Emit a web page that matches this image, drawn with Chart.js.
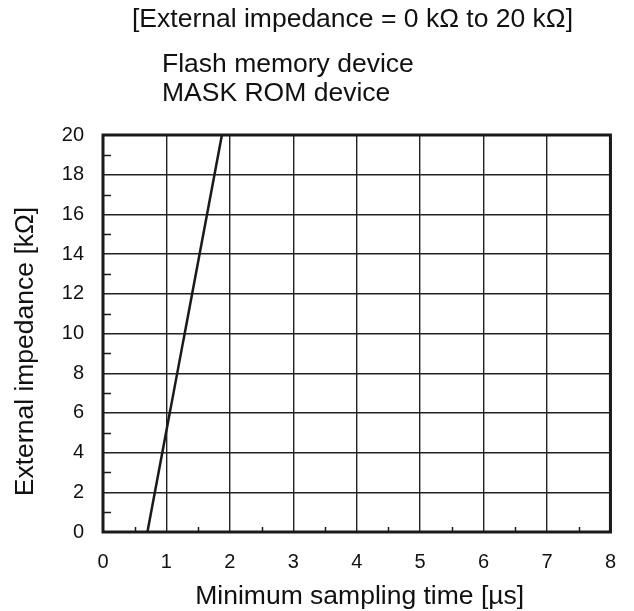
<!DOCTYPE html>
<html>
<head>
<meta charset="utf-8">
<script src="https://cdn.jsdelivr.net/npm/chart.js@4"></script>
<style>
html,body{margin:0;padding:0;background:#fff;}
#wrap{width:634px;height:611px;position:relative;}
</style>
</head>
<body>
<div id="wrap"><canvas id="c" width="634" height="611"></canvas></div>
<script>
const headerTitle = "[External impedance = 0 k\u03A9 to 20 k\u03A9]";
const deviceLines = ["Flash memory device", "MASK ROM device"];
const xAxisTitle = "Minimum sampling time [\u00B5s]";
const yAxisTitle = "External impedance [k\u03A9]";
const samplingTime = [0.70, 1.875];
const impedance = [0, 20];
const xMinorTicks = [0.5, 1.5, 2.5, 3.5, 4.5, 5.5, 6.5, 7.5];
const yMinorTicks = [1, 3, 5, 7, 9, 11, 13, 15, 17, 19];

const FONT = "'Liberation Sans', Arial, Helvetica, sans-serif";

const decor = {
  id: 'decor',
  afterDraw(chart) {
    const ctx = chart.ctx;
    const a = chart.chartArea;
    const xs = chart.scales.x, ys = chart.scales.y;
    ctx.save();
    ctx.strokeStyle = '#1a1a1a';
    ctx.lineWidth = 1.5;
    ctx.beginPath();
    yMinorTicks.forEach(v => {
      const p = Math.round(ys.getPixelForValue(v)) + 0.5;
      ctx.moveTo(a.left, p); ctx.lineTo(a.left + 8, p);
    });
    xMinorTicks.forEach(v => {
      const p = Math.round(xs.getPixelForValue(v)) + 0.5;
      ctx.moveTo(p, a.bottom); ctx.lineTo(p, a.bottom - 5);
    });
    ctx.stroke();
    ctx.lineWidth = 3;
    ctx.strokeRect(a.left, a.top, a.right - a.left, a.bottom - a.top);
    ctx.fillStyle = '#111';
    ctx.font = "26.5px " + FONT;
    ctx.textBaseline = 'alphabetic';
    ctx.textAlign = 'left';
    ctx.fillText(headerTitle, 132, 27);
    ctx.fillText(deviceLines[0], 162, 72);
    ctx.fillText(deviceLines[1], 162, 101);
    ctx.textAlign = 'center';
    ctx.fillText(xAxisTitle, (a.left + a.right) / 2 + 3, 604);
    ctx.translate(33, (a.top + a.bottom) / 2 + 18);
    ctx.rotate(-Math.PI / 2);
    ctx.fillText(yAxisTitle, 0, 0);
    ctx.restore();
  }
};

new Chart(document.getElementById('c'), {
  type: 'scatter',
  data: {
    datasets: [{
      data: samplingTime.map((x, i) => ({x: x, y: impedance[i]})),
      showLine: true,
      borderColor: '#1a1a1a',
      borderWidth: 2.5,
      pointRadius: 0,
      fill: false
    }]
  },
  options: {
    responsive: false,
    animation: false,
    devicePixelRatio: 1,
    layout: { padding: { top: 135, right: 20, left: 0, bottom: 0 } },
    plugins: { legend: { display: false }, tooltip: { enabled: false }, title: { display: false } },
    scales: {
      x: {
        type: 'linear', min: 0, max: 8,
        ticks: { stepSize: 1, color: '#111', font: { family: FONT, size: 20 }, padding: 18, maxRotation: 0 },
        grid: { color: '#222', lineWidth: 1.4, drawTicks: false },
        border: { display: false },
        title: { display: false },
        afterFit(s) { s.height = 79; }
      },
      y: {
        type: 'linear', min: 0, max: 20,
        ticks: { stepSize: 2, color: '#111', font: { family: FONT, size: 20 }, padding: 19 },
        grid: { color: '#222', lineWidth: 1.4, drawTicks: false },
        border: { display: false },
        title: { display: false },
        afterFit(s) { s.width = 103; }
      }
    }
  },
  plugins: [decor]
});
</script>
</body>
</html>
